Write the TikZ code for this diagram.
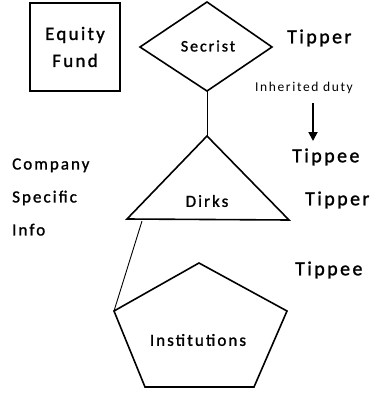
\documentclass[tikz,border=0pt]{standalone}
\usepackage{fontspec}
\setmainfont[LetterSpace=12,FakeBold=1.3]{Carlito}
\newfontfamily\thinf[LetterSpace=12]{Carlito}
\usetikzlibrary{arrows.meta}
\begin{document}
\begin{tikzpicture}[x=1pt,y=-1pt,
  shp/.style={draw,line width=1.6pt,line join=miter},
  conn/.style={draw,line width=0.9pt},
  lbl/.style={inner sep=0pt,anchor=west},
  big/.style={font=\fontsize{20}{24}\selectfont},
  mid/.style={font=\fontsize{17}{20}\selectfont}]
\useasboundingbox (0,0) rectangle (387,394);
% Equity Fund box
\node[draw,line width=1.8pt,minimum width=90pt,minimum height=88pt,inner sep=0pt,align=center,font=\fontsize{19}{27}\selectfont] (fund) at (75,47) {Equity\\Fund};
% Diamond
\coordinate (dl) at (140,47); \coordinate (dt) at (207,2);
\coordinate (dr) at (272,47); \coordinate (db) at (207,91);
\draw[shp] (dl) -- (dt) -- (dr) -- (db) -- cycle;
\node[inner sep=0pt,font=\fontsize{16}{19}\selectfont] (secrist) at (208,46) {Secrist};
% Triangle
\coordinate (ta) at (207,136); \coordinate (tl) at (127,219); \coordinate (tr) at (289,220);
\draw[shp] (ta) -- (tl) -- (tr) -- cycle;
\node[inner sep=0pt,mid] (dirks) at (207,201) {Dirks};
% Pentagon
\coordinate (pt) at (199,263); \coordinate (pr) at (287,311);
\coordinate (pbr) at (254,387); \coordinate (pbl) at (145,387);
\coordinate (pl) at (114,311);
\draw[shp] (pt) -- (pr) -- (pbr) -- (pbl) -- (pl) -- cycle;
\node[inner sep=0pt,mid] (inst) at (198,340) {Institutions};
% Connectors
\draw[conn] (db) -- (ta);
\coordinate (tq) at (142,221);
\draw[conn] (tq) -- (pl);
% Right labels
\node[lbl,big] (tipper1) at (287,38) {Tipper};
\node[lbl,font=\thinf\fontsize{13.5}{16}\selectfont] (inh) at (255,88) {Inherited duty};
\coordinate (a1) at (313,103); \coordinate (a2) at (313,141);
\draw[line width=1.8pt,-{Triangle[length=9pt,width=9pt]}] (a1) -- (a2);
\node[lbl,big] (tippee1) at (292,157) {Tippee};
\node[lbl,big] (tipper2) at (305,200) {Tipper};
\node[lbl,big] (tippee2) at (295,270) {Tippee};
% Left label
\node[lbl,align=left,font=\fontsize{17}{33}\selectfont] (csi) at (12,197) {Company\\Specific\\Info};
\end{tikzpicture}
\end{document}
